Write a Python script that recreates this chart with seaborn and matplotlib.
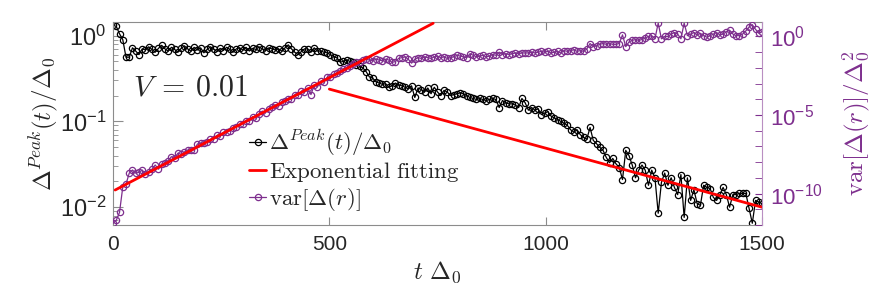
import numpy as np
import pandas as pd
import matplotlib
matplotlib.use("Agg")
import matplotlib.pyplot as plt
import seaborn as sns
from matplotlib.ticker import FixedLocator, NullFormatter, LogLocator

# Delta^Peak(t)/Delta_0, one value every 7.5 time units from t=0 to t=1500
peak = [
    1.32, 1.28, 1.05, 0.90, 0.56, 0.56, 0.72, 0.66, 0.60, 0.70,
    0.68, 0.74, 0.69, 0.64, 0.71, 0.77, 0.70, 0.66, 0.73, 0.69,
    0.64, 0.71, 0.76, 0.70, 0.66, 0.73, 0.68, 0.72, 0.63, 0.69,
    0.74, 0.70, 0.65, 0.71, 0.67, 0.73, 0.69, 0.64, 0.70, 0.72,
    0.68, 0.73, 0.66, 0.71, 0.69, 0.74, 0.70, 0.67, 0.72, 0.70,
    0.68, 0.70, 0.66, 0.72, 0.78, 0.70, 0.64, 0.60, 0.65, 0.70,
    0.70, 0.64, 0.72, 0.66, 0.66, 0.64, 0.63, 0.60, 0.57, 0.55,
    0.49, 0.50, 0.52, 0.50, 0.49, 0.46, 0.44, 0.42, 0.38, 0.33,
    0.32, 0.29, 0.28, 0.27, 0.275, 0.25, 0.26, 0.28, 0.265, 0.26,
    0.25, 0.24, 0.26, 0.19, 0.245, 0.235, 0.22, 0.245, 0.21, 0.25,
    0.22, 0.20, 0.23, 0.22, 0.20, 0.205, 0.21, 0.215, 0.21, 0.20,
    0.19, 0.185, 0.18, 0.185, 0.18, 0.175, 0.18, 0.185, 0.18, 0.145,
    0.175, 0.165, 0.16, 0.16, 0.155, 0.145, 0.185, 0.165, 0.135, 0.145,
    0.135, 0.14, 0.12, 0.125, 0.13, 0.115, 0.11, 0.105, 0.10, 0.095,
    0.09, 0.08, 0.075, 0.08, 0.07, 0.065, 0.062, 0.085, 0.06, 0.055,
    0.050, 0.046, 0.038, 0.033, 0.037, 0.032, 0.029, 0.021, 0.046, 0.040,
    0.031, 0.022, 0.027, 0.031, 0.027, 0.018, 0.027, 0.022, 0.0085, 0.0195,
    0.025, 0.018, 0.022, 0.017, 0.014, 0.024, 0.0076, 0.022, 0.012, 0.016,
    0.011, 0.0105, 0.018, 0.017, 0.0165, 0.013, 0.012, 0.014, 0.017, 0.014,
    0.010, 0.014, 0.014, 0.0145, 0.0145, 0.0145, 0.0097, 0.0065, 0.012, 0.0115,
    0.011,
]

# var[Delta(r)]/Delta_0^2, read as powers of ten on the same time grid
var_exp = [
    -11.9, -11.7, -11.2, -9.6, -9.4, -8.7, -8.5, -8.7, -8.65, -8.5,
    -8.75, -8.6, -8.45, -8.18, -8.45, -8.12, -8.04, -7.9, -7.65, -7.75,
    -7.43, -7.5, -7.35, -7.23, -7.2, -7.23, -6.85, -6.8, -6.75, -6.72,
    -6.55, -6.5, -6.3, -6.35, -6.1, -6.05, -6.0, -5.8, -5.75, -5.6,
    -5.55, -5.35, -5.4, -5.1, -5.2, -4.95, -4.75, -4.85, -4.6, -4.5,
    -4.35, -4.45, -4.15, -4.1, -3.95, -4.0, -3.7, -3.75, -3.5, -3.55,
    -3.3, -3.7, -3.1, -3.2, -2.85, -2.9, -2.6, -2.55, -2.4, -2.35,
    -2.2, -2.05, -2.0, -1.85, -1.75, -1.65, -1.6, -1.5, -1.45, -1.5,
    -1.55, -1.45, -1.5, -1.55, -1.45, -1.5, -1.65, -1.6, -1.4, -1.35,
    -1.3, -1.45, -1.7, -1.45, -1.35, -1.4, -1.3, -1.35, -1.4, -1.3,
    -1.25, -1.35, -1.3, -1.4, -1.35, -1.3, -1.2, -1.25, -1.3, -1.35,
    -1.1, -1.2, -1.3, -1.25, -1.2, -1.3, -1.25, -1.15, -1.2, -1.0,
    -1.15, -1.1, -1.15, -1.1, -1.05, -1.1, -1.05, -1.05, -1.05, -1.0,
    -1.05, -1.0, -0.95, -1.0, -0.95, -1.05, -1.0, -0.95, -1.05, -0.9,
    -0.95, -0.9, -0.85, -0.95, -0.9, -0.95, -0.8, -0.45, -0.65, -0.6,
    -0.5, -0.45, -0.5, -0.45, -0.5, -0.5, -0.45, 0.1, -0.65, -0.35,
    -0.25, -0.2, -0.25, -0.2, -0.1, 0.0, 0.05, -0.15, 0.85, -0.15,
    0.0, 0.0, 0.15, 0.25, 0.15, -0.15, 0.85, 0.05, 0.15, 0.25,
    0.1, 0.2, 0.05, -0.05, 0.05, 0.15, 0.25, 0.1, 0.15, 0.3,
    0.4, 0.15, 0.05, 0.05, 0.15, 0.35, 0.6, 0.75, 0.45, 0.2,
    0.3,
]

# exponential fits  a * exp(b t) and the t range they are drawn over
fit_peak = dict(a=1.16, b=-0.003169, t0=500, t1=1500)
fit_var = dict(a=1.43e-10, b=0.03325, t0=5, t1=740)

purple = "#7E2F8E"
axcol = "#8c8c8c"

t = np.linspace(0, 1500, len(peak))
df = pd.DataFrame({"t": t, "peak": peak, "var": 10.0 ** np.array(var_exp)})

sns.set_style("ticks")
plt.rcParams["font.family"] = ["Liberation Sans", "DejaVu Sans"]
plt.rcParams["mathtext.fontset"] = "cm"

fig = plt.figure(figsize=(8.72, 2.97), dpi=100)
ax = fig.add_axes([0.1296, 0.2424, 0.7443, 0.6835])
ax2 = ax.twinx()

sns.lineplot(data=df, x="t", y="peak", ax=ax, color="k", marker="o",
             markersize=4.5, markerfacecolor="none", markeredgecolor="k",
             markeredgewidth=0.9, linewidth=0.9,
             label=r"$\Delta^{Peak}(t)/\Delta_0$")
tf = np.linspace(fit_peak["t0"], fit_peak["t1"], 60)
sns.lineplot(x=tf, y=fit_peak["a"] * np.exp(fit_peak["b"] * tf), ax=ax,
             color="red", linewidth=2, label=r"$\mathrm{Exponential\ fitting}$")

sns.lineplot(data=df, x="t", y="var", ax=ax2, color=purple, marker="o",
             markersize=4.5, markerfacecolor="none", markeredgecolor=purple,
             markeredgewidth=0.9, linewidth=0.9,
             label=r"$\mathrm{var}[\Delta(r)]$")
tv = np.linspace(fit_var["t0"], fit_var["t1"], 60)
sns.lineplot(x=tv, y=fit_var["a"] * np.exp(fit_var["b"] * tv), ax=ax2,
             color="red", linewidth=2, legend=False)

# left axis
ax.set_yscale("log")
ax.set_xlim(0, 1500)
ax.set_ylim(0.0062, 1.44)
ax.set_xticks([0, 500, 1000, 1500])
ax.yaxis.set_minor_locator(LogLocator(base=10, subs=np.arange(2, 10)))
ax.tick_params(axis="both", which="both", direction="in", color=axcol,
               labelcolor="#262626")
ax.tick_params(axis="x", which="major", top=True, length=6, labelsize=15, pad=7)
ax.tick_params(axis="y", which="major", length=7, labelsize=17, pad=5)
ax.tick_params(axis="y", which="minor", length=3.5)
for s in ["left", "bottom", "top"]:
    ax.spines[s].set_color(axcol)
    ax.spines[s].set_linewidth(0.8)
ax.spines["right"].set_visible(False)
ax.set_xlabel(r"$t\ \Delta_0$", fontsize=18, labelpad=4)
ax.set_ylabel(r"$\Delta^{Peak}(t)/\Delta_0$", fontsize=18, labelpad=0)

# right axis
ax2.set_yscale("log")
ax2.set_ylim(1e-12, 8.3)
ax2.yaxis.set_major_locator(FixedLocator([1e-10, 1e-5, 1e0]))
ax2.yaxis.set_minor_locator(FixedLocator([10.0 ** k for k in range(-12, 1)
                                          if k % 5 != 0]))
ax2.yaxis.set_minor_formatter(NullFormatter())
ax2.tick_params(axis="y", which="both", direction="in", length=5,
                color=purple, labelcolor=purple, labelsize=16, pad=6)
for s in ["left", "bottom", "top"]:
    ax2.spines[s].set_visible(False)
ax2.spines["right"].set_color("#b98fc2")
ax2.spines["right"].set_linewidth(0.8)
ax2.set_ylabel(r"$\mathrm{var}[\Delta(r)]/\Delta_0^2$", fontsize=18,
               color=purple, labelpad=12)

ax.text(0.031, 0.675, r"$V\:=\:0.01$", transform=ax.transAxes, fontsize=21.5,
        va="center", ha="left")

h1, l1 = ax.get_legend_handles_labels()
h2, l2 = ax2.get_legend_handles_labels()
ax.get_legend().remove()
ax2.legend(h1 + h2, l1 + l2, loc="upper left", bbox_to_anchor=(0.21, 0.48),
           frameon=False, fontsize=16.5, handlelength=0.75, handletextpad=0.12,
           labelspacing=0.08, borderpad=0, borderaxespad=0)

fig.savefig("out.png", dpi=100)
